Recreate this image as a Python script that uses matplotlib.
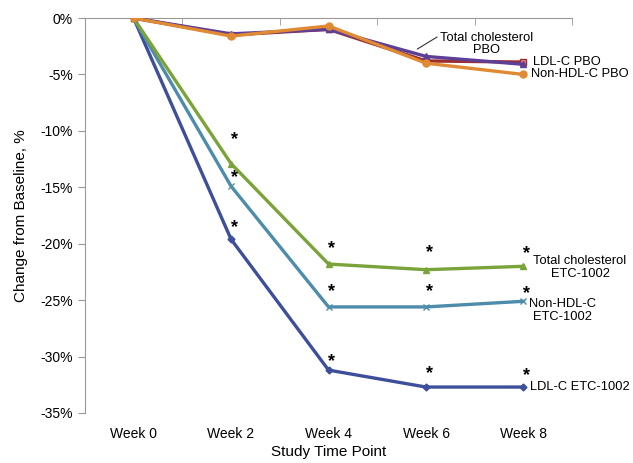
import numpy as np
import matplotlib.pyplot as plt

plt.rcParams['font.family'] = ['Liberation Sans', 'DejaVu Sans']

# -------------------------------------------------
# Data (percent change from baseline)
# -------------------------------------------------
weeks = ["Week 0", "Week 2", "Week 4", "Week 6", "Week 8"]

tc_pbo = [0, -1.4, -1.0, -3.4, -4.1]
ldl_pbo = [0, -1.5, -1.0, -3.8, -3.9]
nonhdl_pbo = [0, -1.6, -0.7, -4.0, -5.0]

tc_etc = [0, -12.9, -21.8, -22.3, -22.0]
nonhdl_etc = [0, -14.9, -25.6, -25.6, -25.1]
ldl_etc = [0, -19.6, -31.2, -32.7, -32.7]

# significance stars (week index) and their pixel offset above the point
stars_tc = [(1, 24), (2, 15), (3, 17), (4, 13)]
stars_nonhdl = [(1, 9), (2, 15), (3, 15), (4, 8)]
stars_ldl = [(1, 12), (2, 9), (3, 13), (4, 11)]

x = np.arange(len(weeks))

fig = plt.figure(figsize=(6.33, 4.63), dpi=100)
ax = fig.add_axes([0.134, 0.108, 0.770, 0.853])

lw = 2.4
ax.plot(x, ldl_etc, color="#3d4f9b", lw=lw, marker="D", ms=3.5, zorder=3)
ax.plot(x, nonhdl_etc, color="#4d8cab", lw=lw, marker="x", ms=4, mew=1, zorder=3)
ax.plot(x, tc_etc, color="#7aa33a", lw=lw, marker="^", ms=4, zorder=3)

ax.plot(x, ldl_pbo, color="#9b2d30", lw=lw, marker="s", ms=5,
        mfc="#d98b9a", mec="#9b2d30", zorder=4)
ax.plot(x, tc_pbo, color="#5d3f98", lw=lw, marker="^", ms=4, zorder=4)
ax.plot(x, nonhdl_pbo, color="#e08a33", lw=lw, marker="o", ms=5, zorder=5)

# stars
for vals, stars in [(tc_etc, stars_tc), (nonhdl_etc, stars_nonhdl),
                    (ldl_etc, stars_ldl)]:
    for i, off in stars:
        ax.annotate("*", (x[i], vals[i]), xytext=(3, off),
                    textcoords="offset pixels", ha="center", va="center",
                    fontsize=13, fontweight="bold", color="black")

# series labels
fs = 9.3
ax.annotate("Total cholesterol\nPBO", xy=(2.91, -2.75), xytext=(3.62, -2.3),
            ha="center", va="center", fontsize=fs, linespacing=1.1,
            arrowprops=dict(arrowstyle="-", color="#333333", lw=0.8,
                            shrinkA=0, shrinkB=0, relpos=(0.0, 0.85)))
ax.text(4.1, -3.9, "LDL-C PBO", ha="left", va="center", fontsize=fs)
ax.text(4.08, -5.0, "Non-HDL-C PBO", ha="left", va="center", fontsize=fs)
ax.text(4.58, -22.1, "Total cholesterol\nETC-1002", ha="center", va="center",
        fontsize=fs, linespacing=1.1, clip_on=False)
ax.text(4.4, -25.9, "Non-HDL-C\nETC-1002", ha="center", va="center",
        fontsize=fs, linespacing=1.1, clip_on=False)
ax.text(4.07, -32.7, "LDL-C ETC-1002", ha="left", va="center", fontsize=fs)

# axes styling
ax.set_xlim(-0.5, 4.5)
ax.set_ylim(-35, 0)
ax.set_yticks(np.arange(0, -36, -5))
ax.set_yticklabels([f"{v}%" for v in range(0, -36, -5)], fontsize=10)
ax.set_xticks(x)
ax.set_xticklabels(weeks, fontsize=10)
ax.set_xticks(np.arange(-0.5, 5, 1), minor=True)
ax.tick_params(axis="x", which="major", length=0, pad=10)
ax.tick_params(axis="x", which="minor", bottom=False, top=True,
               direction="in", length=5, color="#999999")
ax.tick_params(axis="y", length=5, color="#999999")

for side in ["right", "bottom"]:
    ax.spines[side].set_visible(False)
for side in ["left", "top"]:
    ax.spines[side].set_color("#999999")

ax.set_xlabel("Study Time Point", fontsize=11, labelpad=3)
ax.set_ylabel("Change from Baseline, %", fontsize=11, labelpad=9)

fig.savefig("out.png", dpi=100)
